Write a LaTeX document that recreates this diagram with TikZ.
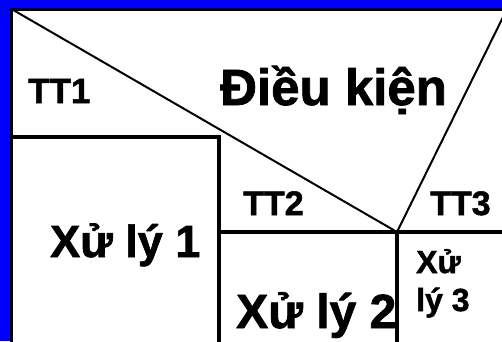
\documentclass[tikz,border=0pt]{standalone}
\usepackage{fontspec}
\setmainfont[BoldFeatures={FakeBold=1.5}]{Liberation Sans}
\usetikzlibrary{positioning}
\definecolor{framecolor}{RGB}{0,0,255}
\newcommand{\fsz}[1]{\fontsize{#1}{#1}\selectfont}
\tikzset{
  cell text/.style={anchor=base west, inner sep=0pt, font=\bfseries},
  frame line/.style={draw=black, line width=3pt},
  box line/.style={draw=black, line width=3.5pt},
  cut line/.style={draw=black, line width=2pt}
}

\begin{document}
\begin{tikzpicture}[x=1pt, y=-1pt]

  \useasboundingbox (0,0) rectangle (502,341);
  \fill[framecolor] (0,0) rectangle (502,341);
  \clip (0,0) rectangle (502,341);
  \fill[white] (12,9) rectangle (510,350);

  % Corners of the structure
  \coordinate (tl) at (11.5,9);
  \coordinate (tr) at (510,9);
  \coordinate (bl) at (11.5,350);
  \coordinate (mid) at (397,232);
  \coordinate (top3) at (507,9);
  \coordinate (l1) at (11.5,137);
  \coordinate (c1) at (219,137);
  \coordinate (b1) at (219,350);
  \coordinate (l2) at (219,232);
  \coordinate (r2) at (510,232);
  \coordinate (b2) at (397,350);

  % Condition triangle
  \draw[cut line] (tl) -- (mid) -- (top3);

  % Branch boxes
  \draw[box line] (l1) -- (c1) -- (b1);
  \draw[box line] (l2) -- (r2);
  \draw[box line] (mid) -- (b2);

  % Outer frame
  \draw[frame line] (bl) -- (tl) -- (tr);

  % Labels
  \node[cell text, font=\bfseries\fsz{51}] (cond) at (220,105) {Điều kiện};
  \node[cell text, font=\bfseries\fsz{35}] (tt1) at (28,103) {TT1};
  \node[cell text, font=\bfseries\fsz{34}] (tt2) at (243,215) {TT2};
  \node[cell text, font=\bfseries\fsz{34}] (tt3) at (430,215) {TT3};
  \node[cell text, font=\bfseries\fsz{45}] (xl1) at (50,257) {Xử lý 1};
  \node[cell text, font=\bfseries\fsz{48}] (xl2) at (236,328) {Xử lý 2};
  \node[cell text, font=\bfseries\fsz{32}] (xl3a) at (416,273) {Xử};
  \node[cell text, font=\bfseries\fsz{32}] (xl3b) at (416,311) {lý 3};

\end{tikzpicture}
\end{document}
